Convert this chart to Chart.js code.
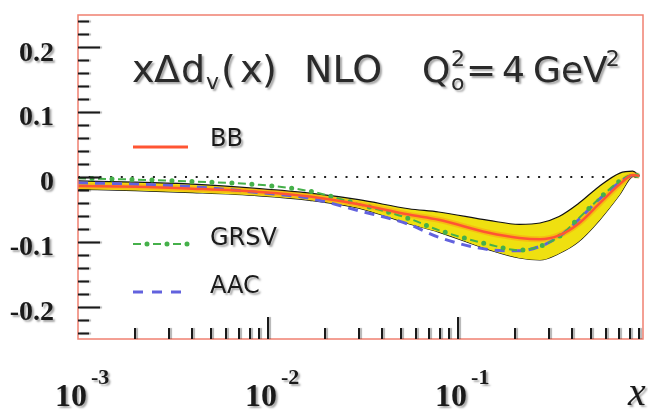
<!DOCTYPE html>
<html>
<head>
<meta charset="utf-8">
<script src="https://cdn.jsdelivr.net/npm/chart.js@4.4.1/dist/chart.umd.min.js"></script>
<style>
  html, body { margin: 0; padding: 0; background: #fff; }
  #wrap { width: 648px; height: 410px; }
</style>
</head>
<body>
<div id="wrap"><canvas id="c" width="648" height="410"></canvas></div>
<script>
// ── Data ────────────────────────────────────────
const xVals   = [0.001, 0.002, 0.004, 0.009, 0.0166, 0.03, 0.055, 0.079, 0.145, 0.21, 0.27, 0.34, 0.43, 0.55, 0.71, 0.83, 0.9];
const bbUpper = [-0.006, -0.008, -0.011, -0.018, -0.025, -0.035, -0.049, -0.054, -0.067, -0.073, -0.071, -0.061, -0.041, -0.015, 0.006, 0.009, 0.002];
const bbLower = [-0.019, -0.021, -0.024, -0.029, -0.036, -0.048, -0.072, -0.085, -0.112, -0.125, -0.128, -0.118, -0.100, -0.068, -0.027, 0.001, 0.002];
const bb      = [-0.014, -0.015, -0.018, -0.023, -0.030, -0.042, -0.058, -0.066, -0.086, -0.094, -0.096, -0.090, -0.072, -0.042, -0.011, 0.003, 0.002];
const grsv    = [-0.002, -0.004, -0.007, -0.012, -0.022, -0.042, -0.064, -0.082, -0.104, -0.113, -0.107, -0.092, -0.064, -0.034, -0.006, 0.003, 0.002];
const aac     = [-0.009, -0.011, -0.015, -0.024, -0.033, -0.052, -0.073, -0.093, -0.112, -0.114, -0.107, -0.092, -0.066, -0.035, -0.008, 0.002, 0.002];

const zeroX = [0.001, 0.94];
const yTickValues = [-0.2, -0.1, 0, 0.1, 0.2];
const yTickLabels = ['-0.2', '-0.1', '0', '0.1', '0.2'];
const xDecades = [0.001, 0.01, 0.1];
const xDecadeExp = ['-3', '-2', '-1'];
const seriesNames = ['BB', 'GRSV', 'AAC'];

const pts = ys => xVals.map((x, i) => ({ x, y: ys[i] }));

const C = {
  frame: '#f08070', band: '#efe010', glow: 'rgba(255,140,20,.4)',
  bb: '#ff5533', grsv: '#45b04a', aac: '#6262de', ink: '#1a1a1a'
};

// ── Decorations: frame, inner ticks, labels, title, legend ──
const decor = {
  id: 'decor',
  afterDraw(chart) {
    const { ctx, chartArea: a, scales: { x, y } } = chart;
    ctx.save();

    // frame
    ctx.strokeStyle = C.frame; ctx.lineWidth = 1.5;
    ctx.strokeRect(a.left, a.top, a.right - a.left, a.bottom - a.top);

    // ticks (with soft scan shadow)
    ctx.shadowColor = 'rgba(0,0,0,.3)'; ctx.shadowOffsetX = 2; ctx.shadowBlur = 1;
    ctx.strokeStyle = C.ink; ctx.lineWidth = 2;
    for (let i = -12; i <= 12; i++) {
      const v = i / 50, py = Math.round(y.getPixelForValue(v)) + .5;
      const len = i % 5 === 0 ? 22 : 11;
      ctx.beginPath(); ctx.moveTo(a.left, py); ctx.lineTo(a.left + len, py); ctx.stroke();
    }
    xDecades.forEach(d => {
      for (let m = 1; m <= 9; m++) {
        if (d === 0.001 && m === 1) continue;
        const px = Math.round(x.getPixelForValue(d * m));
        const len = m === 1 ? 22 : 11;
        ctx.beginPath(); ctx.moveTo(px, a.bottom); ctx.lineTo(px, a.bottom - len); ctx.stroke();
      }
    });

    // y labels
    ctx.shadowColor = 'rgba(0,0,0,.35)'; ctx.shadowOffsetX = 2; ctx.shadowOffsetY = 2; ctx.shadowBlur = 2;
    ctx.fillStyle = C.ink;
    ctx.font = 'bold 28px "Liberation Serif"';
    ctx.textAlign = 'right'; ctx.textBaseline = 'middle';
    yTickValues.forEach((v, i) => ctx.fillText(yTickLabels[i], 54, y.getPixelForValue(v) + 6));

    // x labels 10^n
    ctx.textAlign = 'left'; ctx.textBaseline = 'alphabetic';
    xDecades.forEach((d, i) => {
      const px = x.getPixelForValue(d);
      ctx.font = 'bold 32px "Liberation Serif"';
      ctx.fillText('10', px - 23, 406);
      const w = ctx.measureText('10').width;
      ctx.font = 'bold 22px "Liberation Serif"';
      ctx.fillText(xDecadeExp[i], px - 23 + w + 4, 384);
    });
    ctx.font = 'italic 40px "Liberation Serif"';
    ctx.fillText('x', 628, 405);

    // title
    ctx.fillStyle = '#2a2a2a';
    const big = '38px "DejaVu Sans"', mid = '36px "DejaVu Sans"', small = '22px "DejaVu Sans"';
    const base = 82;
    ctx.font = big;
    ctx.fillText('x', 132, base); ctx.fillText('Δ', 154, base); ctx.fillText('d', 181, base);
    ctx.font = small; ctx.fillText('v', 206, base + 7);
    ctx.font = big;
    ctx.fillText('(', 221, base); ctx.fillText('x', 240, base); ctx.fillText(')', 262, base);
    ctx.fillText('NLO', 304, base);
    ctx.font = mid;
    ctx.fillText('Q', 422, base);
    ctx.font = small; ctx.fillText('o', 451, base + 8); ctx.fillText('2', 451, base - 16);
    ctx.font = mid;
    ctx.fillText('=', 466, base); ctx.fillText('4', 502, base); ctx.fillText('GeV', 533, base);
    const gw = ctx.measureText('GeV').width;
    ctx.font = small; ctx.fillText('2', 533 + gw - 2, base - 16);

    // legend
    ctx.font = '24px "DejaVu Sans"';
    ctx.fillStyle = C.ink;
    [146, 245, 293].forEach((by, i) => ctx.fillText(seriesNames[i], 210, by));
    ctx.shadowColor = 'transparent';
    ctx.lineWidth = 3;
    ctx.strokeStyle = C.bb; ctx.setLineDash([]);
    ctx.beginPath(); ctx.moveTo(133, 147); ctx.lineTo(188, 147); ctx.stroke();
    ctx.strokeStyle = C.grsv; ctx.lineWidth = 2; ctx.setLineDash([8, 12]);
    ctx.beginPath(); ctx.moveTo(133, 244); ctx.lineTo(190, 244); ctx.stroke();
    ctx.lineWidth = 5; ctx.lineCap = 'round'; ctx.setLineDash([0, 20]); ctx.lineDashOffset = 6;
    ctx.beginPath(); ctx.moveTo(133, 244); ctx.lineTo(190, 244); ctx.stroke();
    ctx.lineCap = 'butt'; ctx.lineDashOffset = 0;
    ctx.strokeStyle = C.aac; ctx.lineWidth = 3; ctx.setLineDash([10, 9]);
    ctx.beginPath(); ctx.moveTo(133, 292); ctx.lineTo(190, 292); ctx.stroke();

    ctx.restore();
  }
};

const line = (data, color, width, extra) => Object.assign({
  data, borderColor: color, borderWidth: width, pointRadius: 0,
  fill: false, cubicInterpolationMode: 'monotone'
}, extra);

new Chart(document.getElementById('c'), {
  type: 'line',
  data: {
    datasets: [
      line(pts(bb), C.bb, 2.5, { order: 1 }),
      line(pts(grsv), C.grsv, 5, { order: 2, borderDash: [0, 20], borderDashOffset: 6, borderCapStyle: 'round' }),
      line(pts(grsv), C.grsv, 2, { order: 3, borderDash: [8, 12] }),
      line(pts(aac), C.aac, 3, { order: 4, borderDash: [10, 7] }),
      line(pts(bb), C.glow, 6, { order: 5 }),
      line(pts(bbUpper), '#111', 1.2, { order: 6, fill: '+1', backgroundColor: C.band }),
      line(pts(bbLower), '#111', 1.2, { order: 7 }),
      line(zeroX.map(x => ({ x, y: 0 })), '#222', 2, { order: 8, borderDash: [2, 8.7] })
    ]
  },
  options: {
    responsive: false,
    animation: false,
    devicePixelRatio: 1,
    layout: { padding: { left: 78, right: 5, top: 15, bottom: 71 } },
    plugins: { legend: { display: false }, tooltip: { enabled: false } },
    scales: {
      x: { type: 'logarithmic', min: 0.001, max: 0.94, display: false },
      y: { type: 'linear', min: -0.25, max: 0.25, display: false }
    }
  },
  plugins: [decor]
});
</script>
</body>
</html>
